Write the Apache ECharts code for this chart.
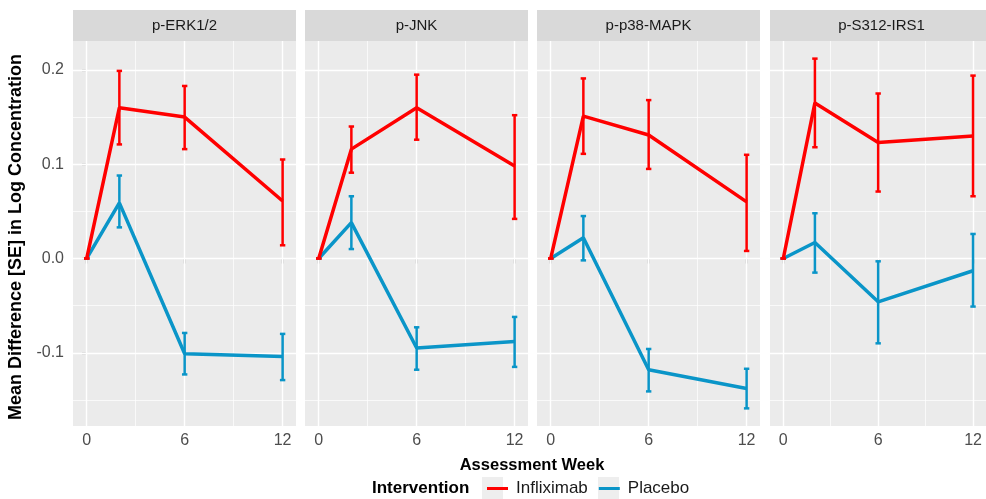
<!DOCTYPE html>
<html>
<head>
<meta charset="utf-8">
<script src="https://cdn.jsdelivr.net/npm/echarts@6/dist/echarts.min.js"></script>
<style>
  html, body { margin: 0; padding: 0; background: #fff; }
  #chart { width: 986px; height: 499px; }
</style>
</head>
<body>
<div id="chart"></div>
<script>
// facets and axes
const panels = ['p-ERK1/2', 'p-JNK', 'p-p38-MAPK', 'p-S312-IRS1']
const weeks = [0, 2, 6, 12]
const xTicks = [0, 6, 12]
const xMinor = [3, 9]
const yTicks = [-0.1, 0, 0.1, 0.2]
const yMinor = [-0.15, -0.05, 0.05, 0.15]

// Infliximab, one row per panel (mean, lower SE, upper SE)
const inflixMean = [
  [0, 0.160, 0.150, 0.061],
  [0, 0.116, 0.160, 0.098],
  [0, 0.151, 0.131, 0.060],
  [0, 0.165, 0.123, 0.130]
]
const inflixLow = [
  [0, 0.121, 0.116, 0.014],
  [0, 0.091, 0.126, 0.042],
  [0, 0.111, 0.095, 0.008],
  [0, 0.118, 0.071, 0.066]
]
const inflixHigh = [
  [0, 0.199, 0.183, 0.105],
  [0, 0.140, 0.195, 0.152],
  [0, 0.191, 0.168, 0.110],
  [0, 0.212, 0.175, 0.194]
]

// Placebo
const placeboMean = [
  [0, 0.059, -0.101, -0.104],
  [0, 0.038, -0.095, -0.088],
  [0, 0.022, -0.118, -0.138],
  [0, 0.017, -0.046, -0.013]
]
const placeboLow = [
  [0, 0.033, -0.123, -0.129],
  [0, 0.010, -0.118, -0.115],
  [0, -0.002, -0.141, -0.159],
  [0, -0.015, -0.090, -0.051]
]
const placeboHigh = [
  [0, 0.088, -0.079, -0.080],
  [0, 0.066, -0.073, -0.062],
  [0, 0.045, -0.096, -0.117],
  [0, 0.048, -0.003, 0.026]
]

const RED = '#FF0000'
const BLUE = '#0A95C8'
const FONT = '"Liberation Sans", Arial, sans-serif'
const panelLeft = [73, 305, 537, 770]
const panelWidth = 223
const panelTop = 41
const panelHeight = 385

function renderErr (params, api) {
  const x = api.value(0)
  const top = api.coord([x, api.value(2)])
  const bot = api.coord([x, api.value(1)])
  const w = 2.7
  const style = { stroke: api.visual('color'), lineWidth: 2.5 }
  return {
    type: 'group',
    children: [
      { type: 'line', shape: { x1: top[0], y1: top[1], x2: bot[0], y2: bot[1] }, style: style },
      { type: 'line', shape: { x1: top[0] - w, y1: top[1], x2: top[0] + w, y2: top[1] }, style: style },
      { type: 'line', shape: { x1: bot[0] - w, y1: bot[1], x2: bot[0] + w, y2: bot[1] }, style: style }
    ]
  }
}

let grids = []
let xAxes = []
let yAxes = []
let series = []
let graphics = []

panels.forEach((name, i) => {
  grids.push({
    left: panelLeft[i],
    top: panelTop,
    width: panelWidth,
    height: panelHeight,
    show: true,
    backgroundColor: '#EBEBEB',
    borderWidth: 0
  })
  xAxes.push({
    gridIndex: i,
    type: 'value',
    min: -0.84,
    max: 12.82,
    axisLine: { show: false },
    splitLine: { show: false },
    axisTick: { show: true, customValues: xTicks, length: 5, lineStyle: { color: '#333', width: 1.2 } },
    axisLabel: { customValues: xTicks, color: '#4D4D4D', fontSize: 16, fontFamily: FONT, margin: 7 }
  })
  yAxes.push({
    gridIndex: i,
    type: 'value',
    min: -0.1777,
    max: 0.2307,
    axisLine: { show: false },
    splitLine: { show: false },
    axisTick: { show: i === 0, customValues: yTicks, length: 5, lineStyle: { color: '#333', width: 1.2 } },
    axisLabel: {
      show: i === 0,
      customValues: yTicks,
      color: '#4D4D4D',
      fontSize: 16,
      fontFamily: FONT,
      margin: 9,
      formatter: v => v.toFixed(1)
    }
  })

  // white grid lines, kept under the data
  const major = { color: '#fff', width: 1.4, type: 'solid' }
  const minor = { color: '#fff', width: 0.7, type: 'solid' }
  series.push({
    type: 'line',
    xAxisIndex: i,
    yAxisIndex: i,
    data: [],
    z: 1,
    silent: true,
    markLine: {
      z: 1,
      silent: true,
      symbol: ['none', 'none'],
      label: { show: false },
      animation: false,
      data: [].concat(
        xMinor.map(v => ({ xAxis: v, lineStyle: minor })),
        yMinor.map(v => ({ yAxis: v, lineStyle: minor })),
        xTicks.map(v => ({ xAxis: v, lineStyle: major })),
        yTicks.map(v => ({ yAxis: v, lineStyle: major }))
      )
    }
  })

  series.push({
    name: 'Placebo',
    type: 'line',
    xAxisIndex: i,
    yAxisIndex: i,
    data: weeks.map((w, k) => [w, placeboMean[i][k]]),
    showSymbol: false,
    z: 10,
    lineStyle: { color: BLUE, width: 3.5 },
    itemStyle: { color: BLUE }
  })
  series.push({
    name: 'Placebo',
    type: 'custom',
    xAxisIndex: i,
    yAxisIndex: i,
    renderItem: renderErr,
    data: weeks.map((w, k) => [w, placeboLow[i][k], placeboHigh[i][k]]),
    z: 11,
    itemStyle: { color: BLUE }
  })
  series.push({
    name: 'Infliximab',
    type: 'line',
    xAxisIndex: i,
    yAxisIndex: i,
    data: weeks.map((w, k) => [w, inflixMean[i][k]]),
    showSymbol: false,
    z: 12,
    lineStyle: { color: RED, width: 3.5 },
    itemStyle: { color: RED }
  })
  series.push({
    name: 'Infliximab',
    type: 'custom',
    xAxisIndex: i,
    yAxisIndex: i,
    renderItem: renderErr,
    data: weeks.map((w, k) => [w, inflixLow[i][k], inflixHigh[i][k]]),
    z: 13,
    itemStyle: { color: RED }
  })

  // facet strip
  graphics.push({
    type: 'rect',
    shape: { x: panelLeft[i], y: 10, width: panelWidth, height: 31 },
    style: { fill: '#D9D9D9' },
    z: 0
  })
  graphics.push({
    type: 'text',
    x: panelLeft[i] + panelWidth / 2,
    y: 25.5,
    style: { text: name, fill: '#1A1A1A', font: '15px ' + FONT, align: 'center', verticalAlign: 'middle' },
    z: 1
  })
})

// axis titles and legend title
graphics.push({
  type: 'text',
  x: 16,
  y: 237,
  rotation: Math.PI / 2,
  style: { text: 'Mean Difference [SE] in Log Concentration', fill: '#000', font: 'bold 18px ' + FONT, align: 'center', verticalAlign: 'middle' }
})
graphics.push({
  type: 'text',
  x: 532,
  y: 465,
  style: { text: 'Assessment Week', fill: '#000', font: 'bold 16.5px ' + FONT, align: 'center', verticalAlign: 'middle' }
})
graphics.push({
  type: 'text',
  x: 372,
  y: 488,
  style: { text: 'Intervention', fill: '#000', font: 'bold 17px ' + FONT, align: 'left', verticalAlign: 'middle' }
})
// legend key backgrounds
graphics.push({ type: 'rect', shape: { x: 482, y: 477, width: 21, height: 22 }, style: { fill: '#EEEEEE' }, z: 0 })
graphics.push({ type: 'rect', shape: { x: 598, y: 477, width: 21, height: 22 }, style: { fill: '#EEEEEE' }, z: 0 })

let chart = echarts.init(document.getElementById('chart'))
chart.setOption({
  animation: false,
  backgroundColor: '#fff',
  grid: grids,
  xAxis: xAxes,
  yAxis: yAxes,
  legend: {
    data: ['Infliximab', 'Placebo'],
    left: 482,
    top: 475,
    itemWidth: 21,
    itemHeight: 3,
    itemGap: 11,
    icon: 'rect',
    textStyle: { color: '#1A1A1A', fontSize: 17, fontFamily: FONT, padding: [0, 0, 0, 3] }
  },
  graphic: graphics,
  series: series
})
</script>
</body>
</html>
